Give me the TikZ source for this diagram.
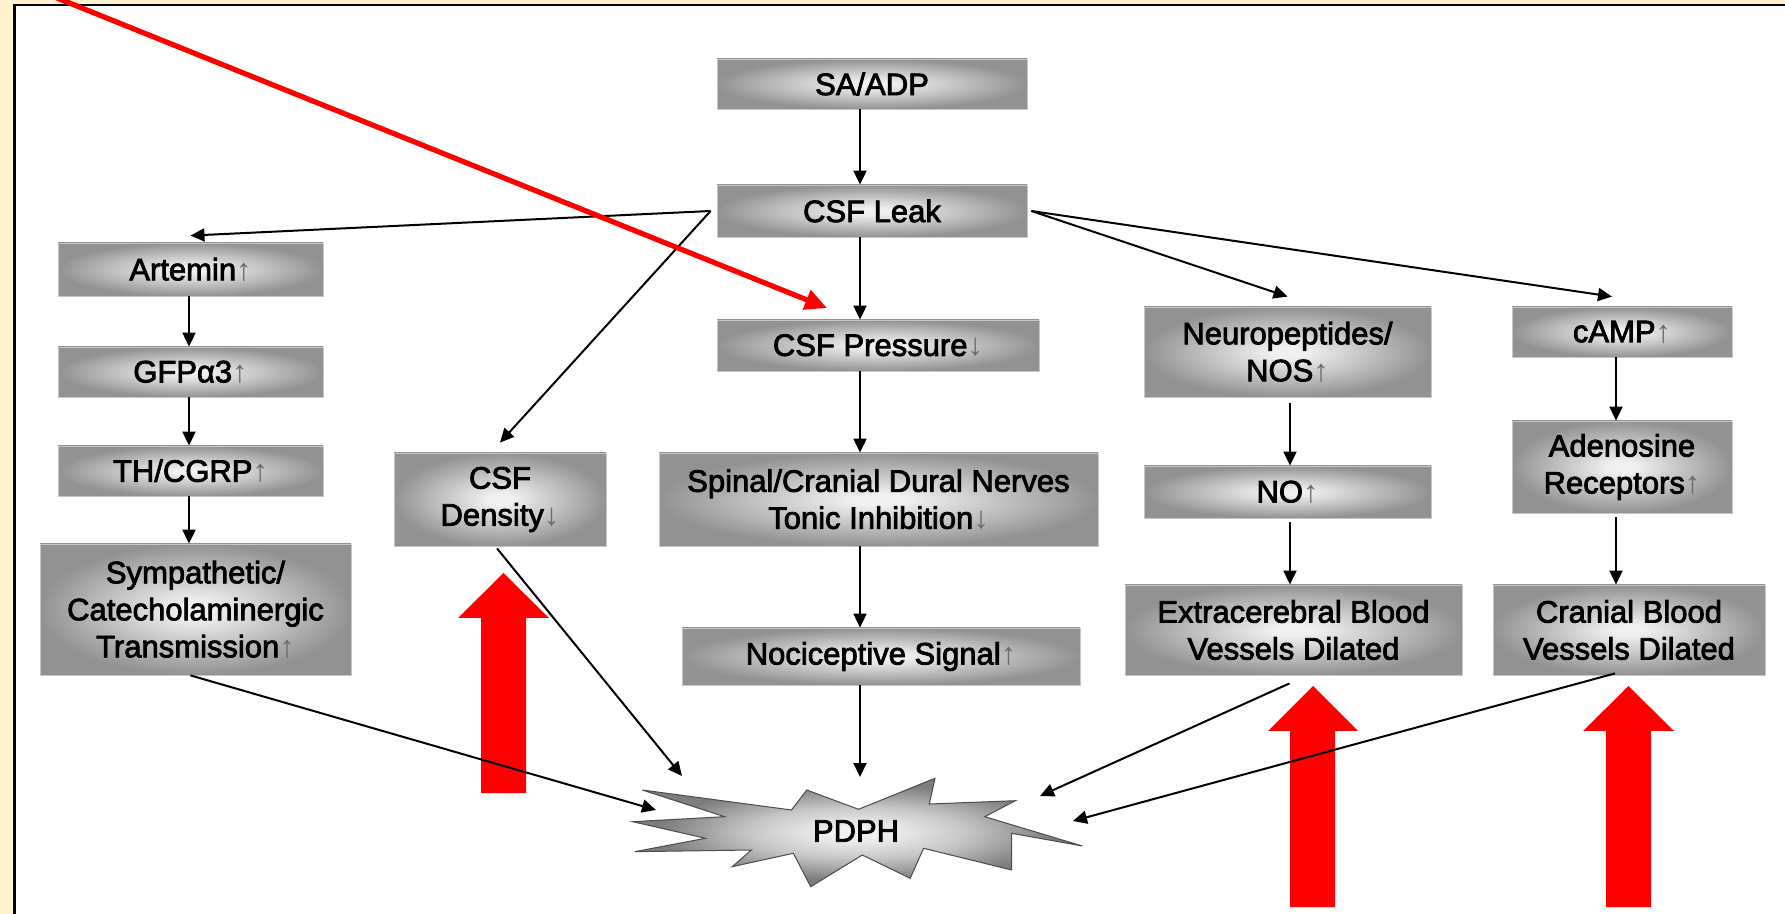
\documentclass[tikz,border=0pt]{standalone}
\usepackage{fontspec}
\setmainfont{Liberation Sans}
\newfontfamily\boxfont[FakeBold=2.6]{Liberation Sans}
\usetikzlibrary{arrows.meta,calc}
\definecolor{cream}{RGB}{255,242,204}
\definecolor{boxdark}{RGB}{146,146,146}
\definecolor{boxmid}{RGB}{198,198,198}
\definecolor{boxlight}{RGB}{240,240,240}
\definecolor{stardark}{RGB}{125,125,125}
\definecolor{arrgray}{RGB}{105,105,105}
\pgfdeclareradialshading{boxshade}{\pgfpoint{0bp}{0bp}}{color(0bp)=(boxlight); color(3bp)=(boxlight); color(13bp)=(boxmid); color(25bp)=(boxdark); color(50bp)=(boxdark)}
\pgfdeclareradialshading{starshade}{\pgfpoint{0bp}{0bp}}{color(0bp)=(boxlight); color(3bp)=(boxlight); color(12bp)=(boxmid); color(22bp)=(stardark); color(50bp)=(stardark)}
\newcommand{\myup}{{\normalfont\fontsize{15.5}{18.5}\selectfont\color{arrgray}↑}}
\newcommand{\mydn}{{\normalfont\fontsize{15.5}{18.5}\selectfont\color{arrgray}↓}}
\begin{document}
\begin{tikzpicture}[x=0.5pt,y=-0.5pt,
  box/.style={rectangle, shading=boxshade, draw=gray!45, line width=0.4pt, align=center, inner sep=0pt, font=\boxfont\fontsize{15.5}{18.5}\selectfont, text=black},
  conn/.style={line width=1pt, -{Triangle[length=7pt,width=6.5pt]}},
  redblock/.style={fill=red},
  redline/.style={red, line width=2.6pt, -{Triangle[length=11pt,width=10pt]}}]
\useasboundingbox (0,0) rectangle (1785,914);
\clip (0,0) rectangle (1785,914);
% background
\fill[cream] (0,0) rectangle (1785,914);
\fill[white] (14.5,5) rectangle (1790,920);
\draw[line width=1.2pt] (14.5,920) -- (14.5,5) -- (1790,5);

% boxes
\node[box, minimum width=155pt, minimum height=25pt] (sa) at (872,84) {SA/ADP};
\node[box, minimum width=155pt, minimum height=26pt] (leak) at (872,211) {CSF Leak};
\node[box, minimum width=161pt, minimum height=25.5pt] (press) at (878,345.5) {CSF Pressure\mydn};
\node[box, minimum width=219.5pt, minimum height=46.5pt] (spinal) at (878.5,499.5) {Spinal/Cranial Dural Nerves\\Tonic Inhibition\mydn};
\node[box, minimum width=199pt, minimum height=28.5pt] (noci) at (881,656.5) {Nociceptive Signal\myup};
\node[box, minimum width=132.5pt, minimum height=26.5pt] (art) at (190.5,269.5) {Artemin\myup};
\node[box, minimum width=132.5pt, minimum height=25pt] (gfp) at (190.5,372) {GFPα3\myup};
\node[box, minimum width=132.5pt, minimum height=25pt] (th) at (190.5,471) {TH/CGRP\myup};
\node[box, minimum width=155.5pt, minimum height=65.5pt] (symp) at (195.5,609.5) {Sympathetic/\\Catecholaminergic\\Transmission\myup};
\node[box, minimum width=106pt, minimum height=46.5pt] (dens) at (500,499.5) {CSF\\Density\mydn};
\node[box, minimum width=143.5pt, minimum height=45pt] (neuro) at (1287.5,352) {Neuropeptides/\\NOS\myup};
\node[box, minimum width=143.5pt, minimum height=26pt] (no) at (1287.5,492) {NO\myup};
\node[box, minimum width=168.5pt, minimum height=45pt] (extra) at (1293.5,630) {Extracerebral Blood\\Vessels Dilated};
\node[box, minimum width=110pt, minimum height=25pt] (camp) at (1622,332) {cAMP\myup};
\node[box, minimum width=110pt, minimum height=46pt] (aden) at (1622,467) {Adenosine\\Receptors\myup};
\node[box, minimum width=136pt, minimum height=45pt] (cran) at (1629,630) {Cranial Blood\\Vessels Dilated};

% starburst
\path[shading=starshade, draw=black!70, line width=0.5pt]
  (642.3,790) -- (791.5,810) -- (806.8,790) -- (858.5,809.3) -- (935,778.3)
  -- (929.3,804) -- (1015.4,800.7) -- (984.8,816.7) -- (1082.4,846)
  -- (1011.6,833.3) -- (1011.6,870) -- (923.6,848.3) -- (910.2,878.3)
  -- (862.3,855) -- (810.7,886.7) -- (793.4,853.3) -- (732.2,866.7)
  -- (751.4,850) -- (634.6,851.7) -- (705.4,838.3) -- (632.7,821.7)
  -- (724.6,816.7) -- cycle;
\node[font=\boxfont\fontsize{15.5}{18.5}\selectfont, inner sep=0pt] (pdph) at (856,831) {PDPH};

% red block arrows
\fill[redblock] (503.5,573) -- (549,618) -- (526,618) -- (526,793) -- (481,793) -- (481,618) -- (458,618) -- cycle;
\fill[redblock] (1313,686) -- (1358,731) -- (1335,731) -- (1335,907) -- (1290,907) -- (1290,731) -- (1268,731) -- cycle;
\fill[redblock] (1628.5,686) -- (1674,731) -- (1651,731) -- (1651,907) -- (1606,907) -- (1606,731) -- (1583,731) -- cycle;

% spine coordinates
\coordinate (sx) at (860,0);
\coordinate (ax) at (189,0);
\coordinate (nx) at (1290,0);
\coordinate (cx) at (1616,0);
\coordinate (p1) at (656,810);
\coordinate (p2) at (682,776);
\coordinate (p3) at (1040,796);
\coordinate (p4) at (1073,821);
\coordinate (p0) at (860,777);

% connectors
\draw[conn] (sa.south -| sx) -- (leak.north -| sx);
\draw[conn] (leak.south -| sx) -- (press.north -| sx);
\draw[conn] (press.south -| sx) -- (spinal.north -| sx);
\draw[conn] (spinal.south -| sx) -- (noci.north -| sx);
\draw[conn] (noci.south -| sx) -- (p0);
\draw[conn] (art.south -| ax) -- (gfp.north -| ax);
\draw[conn] (gfp.south -| ax) -- (th.north -| ax);
\draw[conn] (th.south -| ax) -- (symp.north -| ax);
\draw[conn] ([yshift=-3pt]neuro.south -| nx) -- (no.north -| nx);
\draw[conn] ([yshift=-2pt]no.south -| nx) -- (extra.north -| nx);
\draw[conn] (camp.south -| cx) -- (aden.north -| cx);
\draw[conn] ([yshift=-2pt]aden.south -| cx) -- (cran.north -| cx);
\draw[conn] ([xshift=-3pt]leak.west) -- ([yshift=3.5pt]art.north);
\draw[conn] ([xshift=-3pt]leak.west) -- ([yshift=5pt]dens.north);
\draw[conn] ([xshift=2pt]leak.east) -- ([yshift=5pt]neuro.north);
\draw[conn] ([xshift=2pt]leak.east) -- ([xshift=-5pt,yshift=5pt]camp.north);
\draw[conn] ([xshift=-2.5pt]symp.south) -- (p1);
\draw[conn] ([xshift=-1.5pt,yshift=-1pt]dens.south) -- (p2);
\draw[conn] ([xshift=-2pt,yshift=-4pt]extra.south) -- (p3);
\draw[conn] ([xshift=-7pt,yshift=1pt]cran.south) -- (p4);

% red annotation line
\coordinate (rstart) at (57,-2);
\coordinate (rtip) at (827,308);
\draw[redline] (rstart) -- (rtip);
\end{tikzpicture}
\end{document}
